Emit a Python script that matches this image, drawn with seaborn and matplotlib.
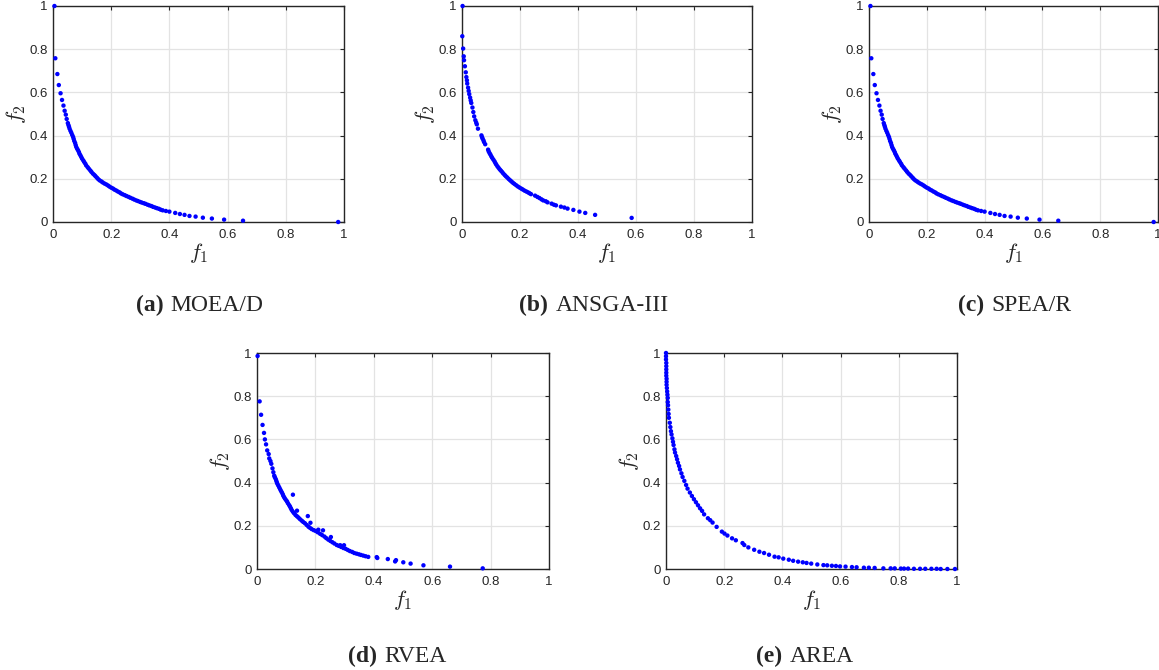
import matplotlib
matplotlib.use("Agg")
import matplotlib.pyplot as plt
import seaborn as sns
import pandas as pd
from matplotlib.ticker import FixedLocator, FuncFormatter

# ---------------- data ----------------
moead_f1 = [0.005, 0.008, 0.015, 0.020, 0.026, 0.031, 0.036, 0.040, 0.044, 0.047, 0.051,
            0.053, 0.055, 0.057, 0.060, 0.063, 0.066, 0.069, 0.071, 0.073, 0.076, 0.078, 0.080,
            0.083, 0.086, 0.089, 0.091, 0.094, 0.097, 0.100, 0.104, 0.107, 0.111, 0.114,
            0.119, 0.123, 0.128, 0.132, 0.137, 0.142, 0.146, 0.151, 0.155, 0.160,
            0.166, 0.171, 0.177, 0.183, 0.189, 0.194, 0.200, 0.206, 0.211, 0.217, 0.223,
            0.229, 0.234, 0.240, 0.247, 0.253, 0.260, 0.266, 0.273, 0.279, 0.286,
            0.292, 0.299, 0.305, 0.312, 0.318, 0.325, 0.331, 0.338, 0.344, 0.351, 0.357,
            0.364, 0.370, 0.377, 0.388, 0.400, 0.420, 0.436, 0.452, 0.469, 0.490, 0.515,
            0.546, 0.588, 0.653, 0.980]
moead_f2 = [1.000, 0.758, 0.685, 0.634, 0.596, 0.565, 0.539, 0.515, 0.497, 0.477, 0.458,
            0.449, 0.441, 0.432, 0.422, 0.413, 0.403, 0.394, 0.385, 0.375, 0.366, 0.356, 0.347,
            0.339, 0.332, 0.324, 0.316, 0.309, 0.301, 0.293, 0.285, 0.278, 0.270, 0.262,
            0.254, 0.247, 0.239, 0.232, 0.224, 0.218, 0.212, 0.205, 0.199, 0.193,
            0.188, 0.183, 0.178, 0.174, 0.169, 0.164, 0.159, 0.155, 0.150, 0.146, 0.141,
            0.137, 0.132, 0.128, 0.124, 0.120, 0.116, 0.112, 0.108, 0.104, 0.100,
            0.097, 0.093, 0.090, 0.087, 0.084, 0.080, 0.077, 0.074, 0.070, 0.067, 0.064,
            0.061, 0.057, 0.054, 0.051, 0.048, 0.042, 0.037, 0.033, 0.028, 0.025, 0.020,
            0.016, 0.011, 0.006, 0.000]

ansga_f1 = [0.002, 0.001, 0.004, 0.006, 0.007, 0.010, 0.013, 0.015, 0.017, 0.018, 0.021,
            0.023, 0.025, 0.028, 0.030, 0.032, 0.036, 0.039, 0.042, 0.046, 0.049, 0.051,
            0.055, 0.067, 0.069, 0.071, 0.074, 0.076, 0.080, 0.090, 0.092, 0.095, 0.098,
            0.101, 0.104, 0.108, 0.112, 0.115, 0.118, 0.122, 0.126, 0.130, 0.134, 0.138,
            0.142, 0.147, 0.151, 0.156, 0.161, 0.166, 0.171, 0.176, 0.181, 0.187, 0.193,
            0.199, 0.205, 0.210, 0.216, 0.222, 0.228, 0.233, 0.238, 0.252, 0.260, 0.267,
            0.274, 0.280, 0.289, 0.295, 0.309, 0.317, 0.324, 0.341, 0.353, 0.364, 0.384,
            0.405, 0.425, 0.459, 0.585]
ansga_f2 = [1.000, 0.860, 0.803, 0.767, 0.749, 0.721, 0.693, 0.671, 0.656, 0.641, 0.622,
            0.607, 0.592, 0.576, 0.563, 0.551, 0.530, 0.509, 0.489, 0.471, 0.460, 0.452,
            0.432, 0.401, 0.393, 0.386, 0.378, 0.370, 0.360, 0.335, 0.327, 0.319, 0.312,
            0.304, 0.297, 0.289, 0.281, 0.273, 0.266, 0.258, 0.251, 0.244, 0.238, 0.232,
            0.225, 0.218, 0.212, 0.206, 0.199, 0.193, 0.187, 0.181, 0.176, 0.170, 0.164,
            0.159, 0.154, 0.150, 0.145, 0.141, 0.137, 0.133, 0.129, 0.122, 0.116, 0.111,
            0.105, 0.100, 0.096, 0.091, 0.085, 0.080, 0.077, 0.071, 0.067, 0.062, 0.056,
            0.048, 0.042, 0.033, 0.019]

spear_f1 = [0.005, 0.008, 0.015, 0.020, 0.026, 0.031, 0.036, 0.040, 0.044, 0.047, 0.051,
            0.053, 0.055, 0.057, 0.060, 0.063, 0.066, 0.069, 0.071, 0.073, 0.076, 0.078, 0.080,
            0.083, 0.086, 0.089, 0.091, 0.094, 0.097, 0.100, 0.104, 0.107, 0.111, 0.114,
            0.119, 0.123, 0.128, 0.132, 0.137, 0.142, 0.146, 0.151, 0.155, 0.160,
            0.166, 0.171, 0.177, 0.183, 0.189, 0.194, 0.200, 0.206, 0.211, 0.217, 0.223,
            0.229, 0.234, 0.240, 0.247, 0.253, 0.260, 0.266, 0.273, 0.279, 0.286,
            0.292, 0.299, 0.305, 0.312, 0.318, 0.325, 0.331, 0.338, 0.344, 0.351, 0.357,
            0.364, 0.370, 0.377, 0.388, 0.400, 0.420, 0.436, 0.452, 0.469, 0.490, 0.515,
            0.546, 0.590, 0.655, 0.985]
spear_f2 = [1.000, 0.758, 0.685, 0.634, 0.596, 0.565, 0.539, 0.515, 0.497, 0.477, 0.458,
            0.449, 0.441, 0.432, 0.422, 0.413, 0.403, 0.394, 0.385, 0.375, 0.366, 0.356, 0.347,
            0.339, 0.332, 0.324, 0.316, 0.309, 0.301, 0.293, 0.285, 0.278, 0.270, 0.262,
            0.254, 0.247, 0.239, 0.232, 0.224, 0.218, 0.212, 0.205, 0.199, 0.193,
            0.188, 0.183, 0.178, 0.174, 0.169, 0.164, 0.159, 0.155, 0.150, 0.146, 0.141,
            0.137, 0.132, 0.128, 0.124, 0.120, 0.116, 0.112, 0.108, 0.104, 0.100,
            0.097, 0.093, 0.090, 0.087, 0.084, 0.080, 0.077, 0.074, 0.070, 0.067, 0.064,
            0.061, 0.057, 0.054, 0.051, 0.048, 0.042, 0.037, 0.033, 0.028, 0.025, 0.020,
            0.016, 0.011, 0.006, 0.000]

rvea_f1 = [0.002, 0.009, 0.014, 0.019, 0.024, 0.027, 0.031, 0.035, 0.040, 0.042, 0.046, 0.049,
           0.053, 0.056, 0.059, 0.061, 0.064, 0.066, 0.068, 0.070, 0.073, 0.076, 0.079, 0.082,
           0.085, 0.088, 0.090, 0.093, 0.096, 0.100, 0.103, 0.106, 0.110, 0.113, 0.116,
           0.119, 0.123, 0.127, 0.132, 0.137, 0.142, 0.147, 0.153, 0.158, 0.164, 0.170,
           0.176, 0.181, 0.187, 0.194, 0.201, 0.208, 0.216, 0.223, 0.231, 0.237, 0.244,
           0.251, 0.258, 0.265, 0.273, 0.280, 0.288, 0.296, 0.304, 0.311, 0.318, 0.326,
           0.333, 0.341, 0.349, 0.356, 0.364, 0.372, 0.381,
           0.123, 0.137, 0.174, 0.183, 0.210, 0.226, 0.253, 0.285, 0.298,
           0.410, 0.412, 0.448, 0.473, 0.476, 0.501, 0.526, 0.570, 0.661, 0.773]
rvea_f2 = [0.986, 0.776, 0.714, 0.667, 0.630, 0.600, 0.577, 0.549, 0.532, 0.512, 0.500, 0.487,
           0.466, 0.448, 0.432, 0.425, 0.417, 0.409, 0.401, 0.394, 0.386, 0.378, 0.370, 0.362,
           0.355, 0.347, 0.339, 0.332, 0.325, 0.318, 0.312, 0.304, 0.296, 0.289, 0.281,
           0.273, 0.265, 0.258, 0.250, 0.244, 0.238, 0.231, 0.224, 0.218, 0.212, 0.204,
           0.196, 0.191, 0.185, 0.180, 0.176, 0.170, 0.163, 0.157, 0.150, 0.143, 0.136,
           0.130, 0.124, 0.118, 0.111, 0.107, 0.102, 0.097, 0.093, 0.088, 0.083, 0.079,
           0.074, 0.071, 0.068, 0.065, 0.062, 0.059, 0.056,
           0.344, 0.270, 0.245, 0.214, 0.182, 0.179, 0.148, 0.110, 0.110,
           0.055, 0.051, 0.046, 0.035, 0.041, 0.031, 0.025, 0.017, 0.011, 0.003]

area_f1 = [0.000, 0.000, 0.000, 0.001, 0.001, 0.001, 0.001, 0.001, 0.002, 0.002, 0.002,
           0.003, 0.004, 0.005, 0.006, 0.006, 0.007, 0.008, 0.009, 0.010, 0.013, 0.015,
           0.017, 0.019, 0.022, 0.024, 0.026, 0.029, 0.031, 0.035, 0.038, 0.041, 0.045,
           0.048, 0.053, 0.057, 0.063, 0.069, 0.074, 0.082, 0.089, 0.096, 0.103, 0.110,
           0.117, 0.124, 0.131, 0.144, 0.152, 0.160, 0.174, 0.192, 0.201, 0.211, 0.227,
           0.240, 0.263, 0.269, 0.283, 0.303, 0.321, 0.337, 0.354, 0.373, 0.387, 0.403,
           0.422, 0.437, 0.454, 0.470, 0.483, 0.499, 0.520, 0.541, 0.554, 0.570, 0.584,
           0.598, 0.617, 0.639, 0.655, 0.680, 0.697, 0.717, 0.747, 0.772, 0.786, 0.807,
           0.818, 0.832, 0.852, 0.873, 0.891, 0.912, 0.930, 0.944, 0.967, 0.993]
area_f2 = [1.000, 0.985, 0.970, 0.954, 0.939, 0.924, 0.909, 0.895, 0.881, 0.867, 0.853,
           0.838, 0.822, 0.807, 0.792, 0.773, 0.758, 0.738, 0.718, 0.700, 0.677, 0.657,
           0.638, 0.623, 0.605, 0.589, 0.574, 0.554, 0.539, 0.523, 0.508, 0.492, 0.477,
           0.461, 0.443, 0.426, 0.408, 0.389, 0.372, 0.354, 0.338, 0.323, 0.309, 0.295,
           0.281, 0.269, 0.253, 0.235, 0.226, 0.215, 0.195, 0.173, 0.164, 0.155, 0.142,
           0.133, 0.120, 0.111, 0.100, 0.089, 0.080, 0.074, 0.066, 0.057, 0.054, 0.048,
           0.043, 0.038, 0.034, 0.031, 0.028, 0.025, 0.021, 0.018, 0.017, 0.015, 0.014,
           0.012, 0.011, 0.009, 0.008, 0.006, 0.006, 0.005, 0.003, 0.003, 0.003, 0.002,
           0.002, 0.002, 0.001, 0.001, 0.001, 0.001, 0.001, 0.000, 0.000, 0.000]

caption_tags = ["(a)", "(b)", "(c)", "(d)", "(e)"]
algorithm_names = ["MOEA/D", "ANSGA-III", "SPEA/R", "RVEA", "AREA"]
tick_values = [0, 0.2, 0.4, 0.6, 0.8, 1]

# ---------------- style ----------------
sns.set_style("white")
plt.rcParams["font.family"] = ["Liberation Sans", "DejaVu Sans"]
plt.rcParams["mathtext.fontset"] = "cm"

W, H = 1159, 670
fig = plt.figure(figsize=(W / 100, H / 100), dpi=100)

# axes boxes in pixels: left, top, right, bottom
boxes = [(53, 6, 344, 222), (462, 6, 752, 222), (869, 6, 1158, 222),
         (257, 353, 549, 569), (666, 353, 957, 569)]
caption_pos = [(200, 311), (594, 311), (1015, 311), (397, 662), (805, 662)]
series = [(moead_f1, moead_f2), (ansga_f1, ansga_f2), (spear_f1, spear_f2),
          (rvea_f1, rvea_f2), (area_f1, area_f2)]

spine_col = "#262626"
renderer = fig.canvas.get_renderer()

for i, ((l, t, r, b), (xs, ys)) in enumerate(zip(boxes, series)):
    ax = fig.add_axes([l / W, 1 - b / H, (r - l) / W, (b - t) / H])
    df = pd.DataFrame({"f1": xs, "f2": ys})
    sns.scatterplot(data=df, x="f1", y="f2", ax=ax, color="#0000ff", s=10,
                    linewidth=0, edgecolor="none", clip_on=False, zorder=3)
    ax.set_xlim(0, 1)
    ax.set_ylim(0, 1)
    ax.xaxis.set_major_locator(FixedLocator(tick_values))
    ax.yaxis.set_major_locator(FixedLocator(tick_values))
    fmt = FuncFormatter(lambda v, p: ("%g" % v))
    ax.xaxis.set_major_formatter(fmt)
    ax.yaxis.set_major_formatter(fmt)
    ax.grid(True, color="#e3e3e3", linewidth=0.9)
    ax.set_axisbelow(True)
    for sp in ax.spines.values():
        sp.set_visible(True)
        sp.set_color(spine_col)
        sp.set_linewidth(1.0)
    ax.tick_params(direction="in", length=3, width=0.8, colors=spine_col,
                   labelsize=9.5, top=True, right=True)
    ax.tick_params(axis="x", pad=5)
    ax.tick_params(axis="y", pad=4)
    ax.set_xlabel("$f_1$", fontsize=16, color=spine_col, labelpad=0)
    ax.set_ylabel("$f_2$", fontsize=16, color=spine_col, labelpad=1)

    # caption: bold tag + normal name, centred
    cx, cy = caption_pos[i]
    t1 = fig.text(0, 0, caption_tags[i], fontsize=17, fontweight="bold",
                  family=["Liberation Serif"], ha="left", va="baseline")
    t2 = fig.text(0, 0, algorithm_names[i], fontsize=17,
                  family=["Liberation Serif"], ha="left", va="baseline")
    w1 = t1.get_window_extent(renderer).width
    w2 = t2.get_window_extent(renderer).width
    gap = 7
    x0 = cx - (w1 + gap + w2) / 2
    t1.set_position((x0 / W, 1 - cy / H))
    t2.set_position(((x0 + w1 + gap) / W, 1 - cy / H))

fig.savefig("out.png", dpi=100)
